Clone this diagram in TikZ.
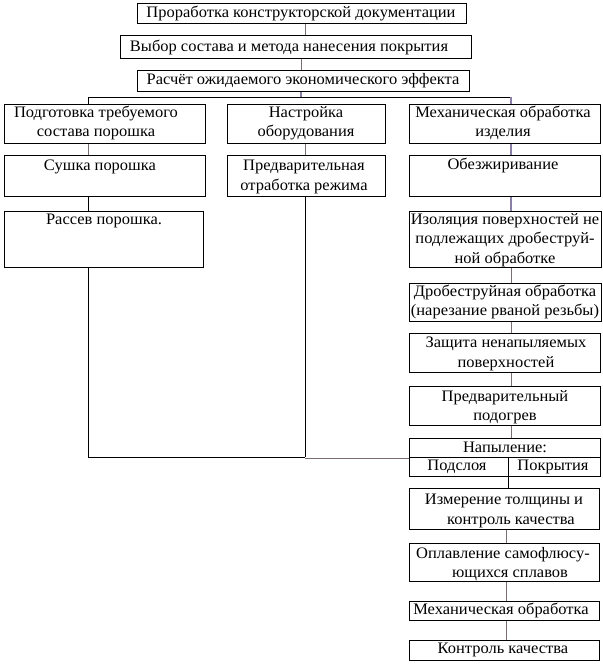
\documentclass[tikz,border=0pt]{standalone}
\usepackage{fontspec}
\setmainfont{Liberation Serif}[FakeStretch=1.03]
\definecolor{lnpurple}{HTML}{8A7FA8}
\definecolor{lngray}{HTML}{7A6E6E}
\begin{document}
\begin{tikzpicture}[x=1pt,y=-1pt,
  bx/.style={draw=black,line width=1pt},
  txt/.style={font=\fontsize{16}{19.5}\selectfont,inner sep=0pt,align=center},
  cb/.style={draw=black,line width=1pt},
  cp/.style={draw=lnpurple,line width=1.2pt},
  cg/.style={draw=lngray,line width=1pt}]
\useasboundingbox (0,0) rectangle (603,665);
% boxes as named rectangles
\newcommand{\mybox}[5]{\node[bx,inner sep=0pt,anchor=north west,minimum width=#4-#2,minimum height=#5-#3] (#1) at (#2,#3) {};}
\mybox{b1}{137}{3}{466}{23}
\mybox{b2}{120}{35}{471}{58}
\mybox{b3}{137}{70}{469}{91}
\mybox{l1}{4}{104}{205}{143}
\mybox{m1}{227}{104}{385}{143}
\mybox{r1}{409}{104}{600}{143}
\mybox{l2}{4}{155}{205}{196}
\mybox{m2}{227}{155}{385}{196}
\mybox{r2}{409}{155}{600}{196}
\mybox{l3}{4}{211}{203}{267}
\mybox{r3}{409}{211}{601}{267}
\mybox{r4}{409}{283}{601}{321}
\mybox{r5}{409}{333}{600}{372}
\mybox{r6}{409}{386}{600}{425}
\mybox{r7}{409}{438}{600}{476}
\mybox{r8}{409}{488}{599}{529}
\mybox{r9}{409}{543}{599}{581}
\mybox{r10}{409}{601}{599}{620}
\mybox{r11}{409}{640}{599}{660}
\coordinate (r7m) at (409,457);
\coordinate (r7d) at (508,457);
\draw[bx] (r7m) -- (600,457);
\draw[bx] (r7d) -- (r7.south -| r7d);
% texts
\node[txt] (t1) at (301,13) {Проработка конструкторской документации};
\node[txt] (t2) at (289,47) {Выбор состава и метода нанесения покрытия};
\node[txt] (t3) at (303,81) {Расчёт ожидаемого экономического эффекта};
\node[txt] (tl1) at (96,123) {Подготовка требуемого\\состава порошка};
\node[txt] (tm1) at (306,123) {Настройка\\оборудования};
\node[txt] (tr1) at (503,123) {Механическая обработка\\изделия};
\node[txt] (tl2) at (100,167) {Сушка порошка};
\node[txt] (tm2) at (304,177) {Предварительная\\отработка режима};
\node[txt] (tr2) at (503,165) {Обезжиривание};
\node[txt] (tl3) at (104,221) {Рассев порошка.};
\node[txt] (tr3) at (505,240) {Изоляция поверхностей не\\подлежащих дробеструй-\\ной обработке};
\node[txt] (tr4) at (505,302) {Дробеструйная обработка\\(нарезание рваной резьбы)};
\node[txt] (tr5) at (506,354) {Защита ненапыляемых\\поверхностей};
\node[txt] (tr6) at (505,407) {Предварительный\\подогрев};
\node[txt] (tr7) at (505,447) {Напыление:};
\node[txt] (tr7a) at (457,467) {Подслоя};
\node[txt] (tr7b) at (553,467) {Покрытия};
\node[txt] (tr8) at (504,511) {Измерение толщины и\\\hspace*{14pt}контроль качества};
\node[txt] (tr9) at (503,564) {Оплавление самофлюсу-\\\hspace*{14pt}ющихся сплавов};
\node[txt] (tr10) at (501,610) {Механическая обработка};
\node[txt] (tr11) at (503,650) {Контроль качества};
% connectors
\coordinate (barL) at (88,97);
\coordinate (barR) at (511,97);
\coordinate (barC) at (301,97);
\draw[cg] (b1.south -| 305,0) -- (b2.north -| 305,0);
\draw[cg] (b2.south -| 301,0) -- (b3.north -| 301,0);
\draw[cp] (b3.south -| barC) -- (barC);
\draw[cb] (barL) -- (barR);
\draw[cb] (barL) -- (l1.north -| barL);
\draw[cp] (barR) -- (r1.north -| barR);
\draw[cg] (m1.south -| 305,0) -- (m2.north -| 305,0);
\draw[cg] (l1.south -| barL) -- (l2.north -| barL);
\draw[cb] (l2.south -| barL) -- (l3.north -| barL);
\coordinate (jL) at (88,457);
\coordinate (jM) at (305,457);
\draw[cb] (l3.south -| barL) -- (jL);
\draw[cb] (m2.south -| jM) -- (jM);
\draw[cb] (jL) -- (jM);
\draw[cg,line width=1.3pt] (305,458.5) -- (r7m |- 0,458.5);
\draw[cp] (r1.south -| barR) -- (r2.north -| barR);
\draw[cp] (r2.south -| barR) -- (r3.north -| barR);
\draw[cg] (r3.south -| barR) -- (r4.north -| barR);
\draw[cg] (r4.south -| barR) -- (r5.north -| barR);
\draw[cg] (r5.south -| barR) -- (r6.north -| barR);
\draw[cg] (r6.south -| barR) -- (r7.north -| barR);
\draw[cb] (r7.south -| r7d) -- (r8.north -| r7d);
\draw[cg] (r8.south -| 506,0) -- (r9.north -| 506,0);
\draw[cg] (r9.south -| 506,0) -- (r10.north -| 506,0);
\draw[cg] (r10.south -| 506,0) -- (r11.north -| 506,0);
\end{tikzpicture}
\end{document}
